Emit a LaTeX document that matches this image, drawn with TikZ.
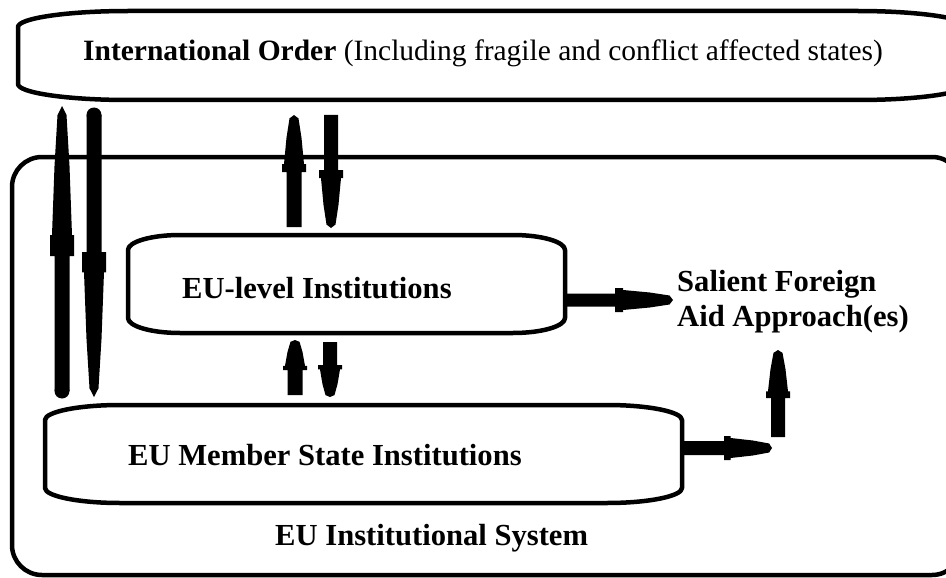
\documentclass[tikz,border=0pt]{standalone}
\usepackage{fontspec}
\setmainfont{Liberation Serif}
\usetikzlibrary{calc}
\newcommand\flatshape[6]{% left top right bottom rx ry
  \draw[boxline] (#1+#5,#2) -- (#3-#5,#2)
    .. controls (#3-0.45*#5,#2) and (#3,#2+0.45*#6) .. (#3,#2+#6)
    -- (#3,#4-#6)
    .. controls (#3,#4-0.45*#6) and (#3-0.45*#5,#4) .. (#3-#5,#4)
    -- (#1+#5,#4)
    .. controls (#1+0.45*#5,#4) and (#1,#4-0.45*#6) .. (#1,#4-#6)
    -- (#1,#2+#6)
    .. controls (#1,#2+0.45*#6) and (#1+0.45*#5,#2) .. cycle;}
% thick tapered arrow: start, end, tip length, shaft half width
\newcommand\rocket[4]{%
  \fill[arrowfill] (#2)
    -- ($(#2)!0.06*#3!(#1)!4.5pt!90:(#1)$)
    -- ($(#2)!0.4*#3!(#1)!7.5pt!90:(#1)$)
    -- ($(#2)!0.86*#3!(#1)!10pt!90:(#1)$)
    -- ($(#2)!0.86*#3!(#1)!12pt!90:(#1)$)
    -- ($(#2)!#3!(#1)!12pt!90:(#1)$)
    -- ($(#2)!#3!(#1)!#4!90:(#1)$)
    -- ($(#1)!#4!-90:(#2)$)
    -- ($(#1)!#4!90:(#2)$)
    -- ($(#2)!#3!(#1)!#4!-90:(#1)$)
    -- ($(#2)!#3!(#1)!12pt!-90:(#1)$)
    -- ($(#2)!0.86*#3!(#1)!12pt!-90:(#1)$)
    -- ($(#2)!0.86*#3!(#1)!10pt!-90:(#1)$)
    -- ($(#2)!0.4*#3!(#1)!7.5pt!-90:(#1)$)
    -- ($(#2)!0.06*#3!(#1)!4.5pt!-90:(#1)$)
    -- cycle;}
\begin{document}
\begin{tikzpicture}[x=1pt,y=-1pt,
  boxline/.style={line width=4.5pt, line join=round},
  arrowfill/.style={fill=black},
  txt/.style={inner sep=0pt, anchor=west, font=\fontsize{30.6}{35}\selectfont}]
\useasboundingbox (0,0) rectangle (946,578);
\clip (0,0) rectangle (946,578);
\fill[white] (0,0) rectangle (946,578);
% outer system box
\draw[boxline, rounded corners=30pt] (12,157) rectangle (962,575);
% top box
\flatshape{18}{11}{968}{100}{110}{16}
% EU-level box
\flatshape{128}{235}{565}{333}{52}{15}
% member state box
\flatshape{45}{405}{682}{503}{75}{15}
% texts
\node[txt, font=\fontsize{29.5}{35}\selectfont] (io) at (83,53) {\textbf{International Order} (Including fragile and conflict affected states)};
\node[txt] (eul) at (182,288) {\textbf{EU-level Institutions}};
\node[txt] (ms) at (128,455) {\textbf{EU Member State Institutions}};
\node[txt] (sys) at (275,538) {\textbf{EU Institutional System}};
\node[txt, align=left] (sal) at (677,302) {\textbf{Salient Foreign}\\\textbf{Aid Approach(es)}};
% arrow end points
\coordinate (a1s) at (62,391); \coordinate (a1e) at (62,106);
\coordinate (a2s) at (94,115); \coordinate (a2e) at (94,397);
\coordinate (a3s) at (294,227); \coordinate (a3e) at (294,115);
\coordinate (a4s) at (331,115); \coordinate (a4e) at (331,228);
\coordinate (a5s) at (295,395); \coordinate (a5e) at (295,340);
\coordinate (a6s) at (330,342); \coordinate (a6e) at (330,397);
\coordinate (a7s) at (567,300); \coordinate (a7e) at (673,300);
\coordinate (a8s) at (684,448); \coordinate (a8e) at (772,448);
\coordinate (a9s) at (778,437); \coordinate (a9e) at (778,350);
\rocket{a1s}{a1e}{150pt}{7.5pt}
\fill[arrowfill] (a1s) circle (7.5pt);
\rocket{a2s}{a2e}{145pt}{7.5pt}
\fill[arrowfill] (a2s) circle (7.5pt);
\rocket{a3s}{a3e}{57pt}{7.5pt}
\rocket{a4s}{a4e}{58pt}{7pt}
\rocket{a5s}{a5e}{30pt}{7.5pt}
\rocket{a6s}{a6e}{32pt}{7pt}
\rocket{a7s}{a7e}{58pt}{6.5pt}
\rocket{a8s}{a8e}{48pt}{7pt}
\rocket{a9s}{a9e}{48pt}{7pt}
\end{tikzpicture}
\end{document}
